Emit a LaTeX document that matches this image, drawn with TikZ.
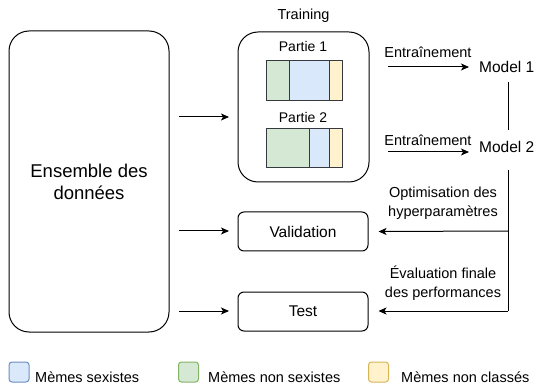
\documentclass[tikz,border=0pt]{standalone}
\usepackage{fontspec}
\setmainfont{Liberation Sans}
\usetikzlibrary{arrows.meta,calc}

\definecolor{bluefill}{HTML}{DAE8FC}
\definecolor{bluestroke}{HTML}{6C8EBF}
\definecolor{greenfill}{HTML}{D5E8D4}
\definecolor{greenstroke}{HTML}{82B366}
\definecolor{yellowfill}{HTML}{FFF2CC}
\definecolor{yellowstroke}{HTML}{D6B656}
\definecolor{barline}{HTML}{36393D}

\tikzset{
  txt/.style={font=\fontsize{14.5}{19}\selectfont, inner sep=0pt, align=center},
  bigbox/.style={draw, line width=1pt, rounded corners=20pt, inner sep=0pt},
  smallbox/.style={draw, line width=1pt, rounded corners=6pt, minimum width=130pt,
    minimum height=39pt, inner sep=0pt, font=\fontsize{15.5}{19}\selectfont},
  seg/.style={draw=barline, line width=1pt},
  legbox/.style={line width=1pt, rounded corners=3pt, minimum width=20pt,
    minimum height=20pt, inner sep=0pt},
  arr/.style={-{Stealth[length=8pt,width=7pt,inset=2pt]}, line width=1pt},
  plain/.style={line width=1pt},
}

\begin{document}
\begin{tikzpicture}[x=1pt, y=-1pt]
\useasboundingbox (0,0) rectangle (535,387);

% dataset block
\node[bigbox, minimum width=160pt, minimum height=301pt] (data) at (89,181.5) {};
\node[txt, font=\fontsize{18.5}{22}\selectfont] (datalbl) at (89,182) {Ensemble des\\données};

% training block with its two splits
\node[bigbox, minimum width=131pt, minimum height=150pt] (train) at (303.5,107) {};
\node[txt] (trainlbl) at (303.5,16) {Training};
\node[txt, font=\fontsize{14}{17}\selectfont] (p1) at (303,46) {Partie 1};
\node[txt, font=\fontsize{14}{17}\selectfont] (p2) at (303,117) {Partie 2};

\filldraw[seg, fill=greenfill]  (266,61) rectangle (289,101);
\filldraw[seg, fill=bluefill]   (289,61) rectangle (329,101);
\filldraw[seg, fill=yellowfill] (329,61) rectangle (342,101);

\filldraw[seg, fill=greenfill]  (266,129) rectangle (309,168);
\filldraw[seg, fill=bluefill]   (309,129) rectangle (329,168);
\filldraw[seg, fill=yellowfill] (329,129) rectangle (342,168);

% validation and test blocks
\node[smallbox] (val) at (303,231.5) {Validation};
\node[smallbox] (test) at (303,311.5) {Test};

% dataset feeds the three blocks
\coordinate (s1) at (179,117);  \coordinate (e1) at (229,117);
\coordinate (s2) at (179,231);  \coordinate (e2) at (229,231);
\coordinate (s3) at (179,311);  \coordinate (e3) at (229,311);
\draw[arr] (s1) -- (e1);
\draw[arr] (s2) -- (e2);
\draw[arr] (s3) -- (e3);

% models
\node[txt, font=\fontsize{15.5}{19}\selectfont, anchor=west] (m1) at (479,67) {Model 1};
\node[txt, font=\fontsize{15.5}{19}\selectfont, anchor=west] (m2) at (479,147) {Model 2};

\node[txt] (tr1) at (428,52) {Entraînement};
\node[txt] (tr2) at (428,140) {Entraînement};
\coordinate (a1) at (388,67);  \coordinate (b1) at (469,67);
\coordinate (a2) at (388,152); \coordinate (b2) at (469,152);
\draw[arr] (a1) -- (b1);
\draw[arr] (a2) -- (b2);

\coordinate (v1) at (508,82);  \coordinate (v2) at (508,130);
\draw[plain] (v1) -- (v2);

% feedback towards validation and test
\coordinate (d0) at (508,170);
\coordinate (j1) at (508,231);
\coordinate (j2) at (508,311);
\draw[plain] (d0) -- (j2);
\draw[arr] (j1) -- ($(val.east)+(10,0)$);
\draw[arr] (j2) -- ($(test.east)+(10,-0.5)$);

\node[txt] (opt) at (443,203) {Optimisation des\\hyperparamètres};
\node[txt] (eva) at (443,283) {Évaluation finale\\des performances};

% legend
\node[legbox, draw=bluestroke, fill=bluefill] (lb) at (19,372) {};
\node[legbox, draw=greenstroke, fill=greenfill] (lg) at (188.5,372) {};
\node[legbox, draw=yellowstroke, fill=yellowfill] (ly) at (378.5,372) {};
\node[txt, anchor=west] (lbt) at (35,377) {Mèmes sexistes};
\node[txt, anchor=west] (lgt) at (208,377) {Mèmes non sexistes};
\node[txt, anchor=west] (lyt) at (401,377) {Mèmes non classés};
\end{tikzpicture}
\end{document}
